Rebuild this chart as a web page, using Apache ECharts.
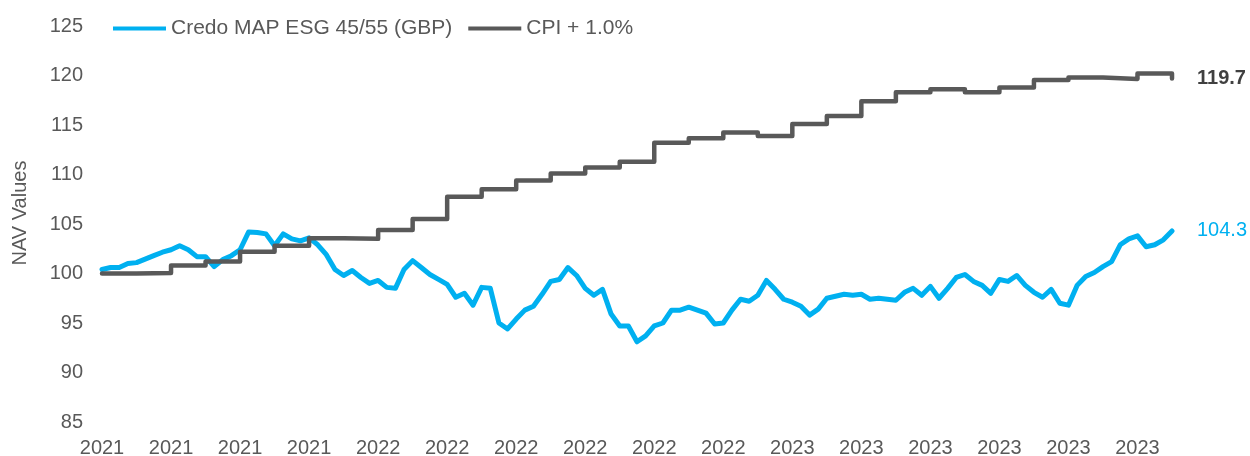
<!DOCTYPE html>
<html>
<head>
<meta charset="utf-8">
<script src="https://cdn.jsdelivr.net/npm/echarts@6/dist/echarts.min.js"></script>
<style>
  html, body { margin: 0; padding: 0; background: #fff; }
  #chart { width: 1250px; height: 456px; }
</style>
</head>
<body>
<div id="chart"></div>
<script>
// tick labels, one every 2 months from the start month
var tickLabels = ['2021', '2021', '2021', '2021',
  '2022', '2022', '2022', '2022', '2022', '2022',
  '2023', '2023', '2023', '2023', '2023', '2023'];

// CPI + 1.0%, monthly level (month 0 .. 31)
var cpiLevels = [100.0, 100.05, 100.8, 101.2, 102.2, 102.8, 103.55, 103.5,
  104.4, 105.5, 107.75, 108.5, 109.4, 110.1, 110.7, 111.3,
  113.2, 113.65, 114.25, 113.9, 115.1, 115.9, 117.4, 118.3,
  118.6, 118.3, 118.8, 119.55, 119.8, 119.65, 120.2, 119.7];

// Credo MAP ESG 45/55 (GBP), one reading per quarter month
var navValues = [
  100.4, 100.6, 100.6, 101.0, 101.1, 101.45, 101.8, 102.15, 102.4, 102.8,
  102.4, 101.7, 101.7, 100.7, 101.4, 101.8, 102.4, 104.2, 104.15, 104.0,
  102.8, 104.0, 103.5, 103.3, 103.6, 102.9, 101.9, 100.4, 99.8, 100.3,
  99.6, 99.0, 99.3, 98.6, 98.5, 100.4, 101.3, 100.6, 99.9, 99.4,
  98.9, 97.6, 98.0, 96.8, 98.6, 98.5, 95.0, 94.4, 95.4, 96.3,
  96.7, 97.9, 99.2, 99.4, 100.6, 99.8, 98.5, 97.8, 98.4, 95.9,
  94.7, 94.7, 93.1, 93.7, 94.7, 95.0, 96.3, 96.3, 96.6, 96.3,
  96.0, 94.9, 95.0, 96.3, 97.4, 97.2, 97.8, 99.3, 98.4, 97.4,
  97.1, 96.7, 95.8, 96.4, 97.5, 97.7, 97.9, 97.8, 97.9, 97.4,
  97.5, 97.4, 97.3, 98.1, 98.5, 97.8, 98.7, 97.5, 98.5, 99.6,
  99.9, 99.2, 98.8, 98.0, 99.4, 99.2, 99.8, 98.8, 98.1, 97.6,
  98.4, 97.0, 96.8, 98.8, 99.7, 100.1, 100.7, 101.2, 102.9, 103.5,
  103.8, 102.7, 102.9, 103.4, 104.3];

var navStep = 0.25; // months between readings

var cpiData = cpiLevels.map(function (v, i) { return [i, v]; });
var navData = navValues.map(function (v, i) { return [i * navStep, v]; });

var textGrey = '#595959';
var chart = echarts.init(document.getElementById('chart'));

chart.setOption({
  animation: false,
  textStyle: { fontFamily: 'Liberation Sans, Arial, sans-serif' },
  grid: { left: 102, right: 78, top: 26, bottom: 34, outerBoundsMode: 'none' },
  legend: {
    left: 113,
    top: 18,
    padding: 0,
    icon: 'rect',
    itemWidth: 53,
    itemHeight: 4,
    itemGap: 16,
    textStyle: { color: textGrey, fontSize: 21 },
    data: ['Credo MAP ESG 45/55 (GBP)', 'CPI + 1.0%']
  },
  xAxis: {
    type: 'value',
    min: 0,
    max: 31,
    interval: 2,
    axisLine: { show: false },
    axisTick: { show: false },
    splitLine: { show: false },
    axisLabel: {
      color: textGrey,
      fontSize: 20,
      margin: 16,
      showMaxLabel: false,
      formatter: function (v) {
        return tickLabels[v / 2] || '';
      }
    }
  },
  yAxis: {
    type: 'value',
    min: 85,
    max: 125,
    interval: 5,
    name: 'NAV Values',
    nameLocation: 'middle',
    nameGap: 72,
    nameTextStyle: { color: textGrey, fontSize: 20, padding: [0, 0, 0, 22] },
    axisLine: { show: false },
    axisTick: { show: false },
    splitLine: { show: false },
    axisLabel: { color: textGrey, fontSize: 20, margin: 19 }
  },
  series: [
    {
      name: 'Credo MAP ESG 45/55 (GBP)',
      type: 'line',
      data: navData,
      symbol: 'none',
      lineStyle: { color: '#00B0F0', width: 5, cap: 'round', join: 'round' },
      itemStyle: { color: '#00B0F0' },
      endLabel: {
        show: true,
        distance: 25,
        color: '#00B0F0',
        fontSize: 20,
        formatter: function (p) { return p.value[1].toFixed(1); }
      }
    },
    {
      name: 'CPI + 1.0%',
      type: 'line',
      step: 'end',
      data: cpiData,
      symbol: 'none',
      lineStyle: { color: '#595959', width: 4.5, cap: 'round', join: 'round' },
      itemStyle: { color: '#595959' },
      endLabel: {
        show: true,
        distance: 25,
        color: '#404040',
        fontSize: 20,
        fontWeight: 'bold',
        formatter: function (p) { return p.value[1].toFixed(1); }
      }
    }
  ]
});
</script>
</body>
</html>
